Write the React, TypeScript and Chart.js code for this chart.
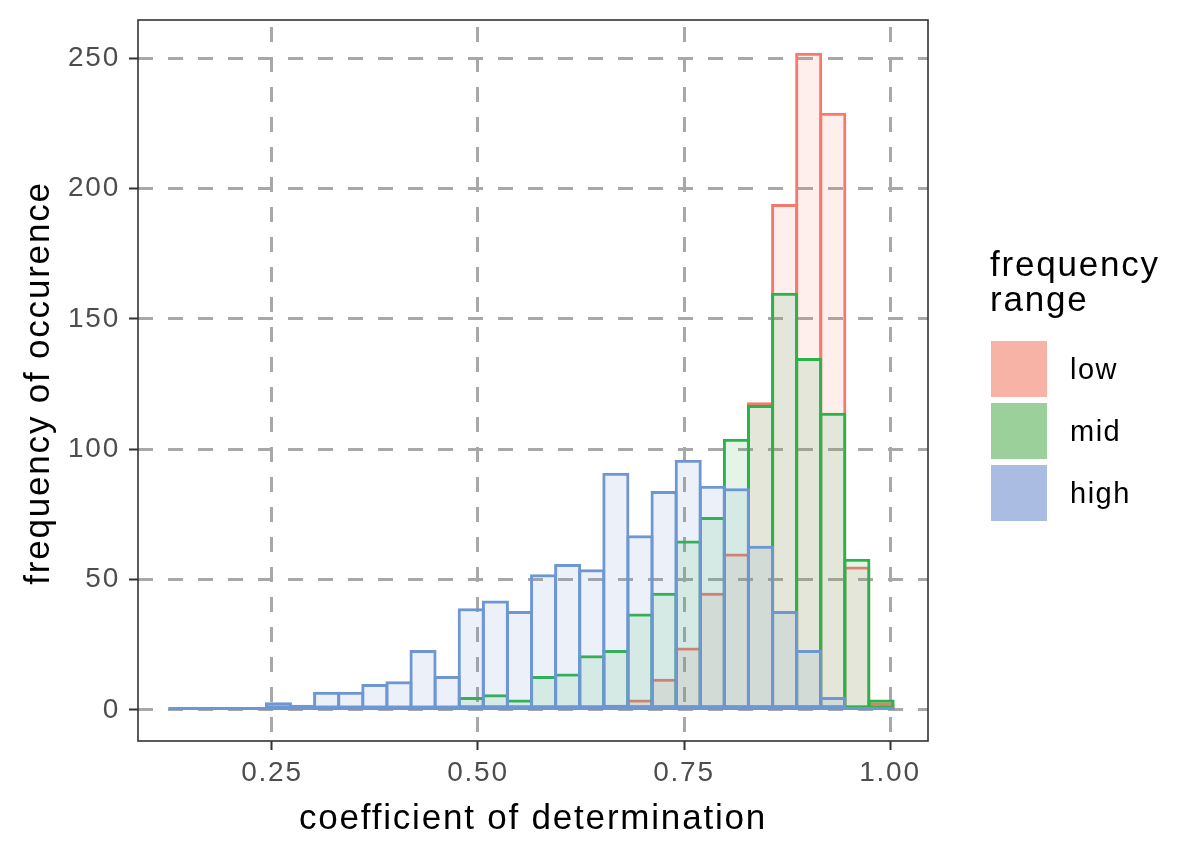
import { useEffect, useRef } from 'react';
import { Chart, ChartConfiguration, registerables } from 'chart.js';

Chart.register(...registerables);

// bin centres of the 30-bin histogram (coefficient of determination)
const binCenters = [
  0.1408, 0.1701, 0.1993, 0.2286, 0.2578, 0.2871, 0.3163, 0.3456, 0.3748, 0.4041,
  0.4333, 0.4626, 0.4918, 0.5211, 0.5503, 0.5796, 0.6088, 0.6381, 0.6673, 0.6966,
  0.7258, 0.7551, 0.7843, 0.8136, 0.8428, 0.8721, 0.9013, 0.9306, 0.9598, 0.9891,
];

const lowCounts = [0, 0, 0, 0, 0, 0, 0, 0, 0, 0, 0, 1, 0, 0, 0, 0, 0, 1, 2, 4, 12, 24, 45, 60, 118, 194, 252, 229, 55, 3];
const midCounts = [0, 0, 0, 0, 0, 0, 0, 0, 0, 1, 0, 0, 5, 6, 4, 13, 14, 21, 23, 37, 45, 65, 74, 104, 117, 160, 135, 114, 58, 4];
const highCounts = [1, 1, 1, 1, 3, 2, 7, 7, 10, 11, 23, 13, 39, 42, 38, 52, 56, 54, 91, 67, 84, 96, 86, 85, 63, 38, 23, 5, 1, 0];

const seriesNames = ['low', 'mid', 'high'];
const xTicks = [0.25, 0.5, 0.75, 1.0];
const xTickLabels = ['0.25', '0.50', '0.75', '1.00'];
const yTicks = [0, 50, 100, 150, 200, 250];

const FONT = '"Liberation Sans", Arial, Helvetica, sans-serif';
const lineColors = ['#F47A6D', '#2BB34B', '#6E96D3'];
const fillColors = ['rgba(244,122,109,0.13)', 'rgba(43,179,75,0.13)', 'rgba(110,150,211,0.13)'];
const keyColors = ['#F7B3A5', '#9BD09B', '#AABCE2'];
const GRID = '#A8A8A8';
const BAR_BORDER = 3;

// ggplot draws a zero-height outline for empty bins; chart.js skips them
const baselinePlugin = {
  id: 'baseline',
  afterDatasetsDraw(chart: Chart) {
    const bars = chart.getDatasetMeta(2).data;
    if (!bars.length) return;
    const first = bars[0].getProps(['x', 'width'], true) as any;
    const last = bars[bars.length - 1].getProps(['x', 'width'], true) as any;
    const y0 = chart.scales.y.getPixelForValue(0);
    const ctx = chart.ctx;
    ctx.save();
    ctx.strokeStyle = lineColors[2];
    ctx.lineWidth = BAR_BORDER;
    ctx.beginPath();
    ctx.moveTo(first.x - first.width / 2, y0 - BAR_BORDER / 2);
    ctx.lineTo(last.x + last.width / 2, y0 - BAR_BORDER / 2);
    ctx.stroke();
    ctx.restore();
  },
};

const panelPlugin = {
  id: 'panel',
  beforeDraw(chart: Chart) {
    (chart.ctx as any).letterSpacing = '1.8px';
  },
  afterDraw(chart: Chart) {
    const { ctx, chartArea: a } = chart;
    ctx.save();
    ctx.strokeStyle = '#333333';
    ctx.lineWidth = 1.6;
    ctx.strokeRect(a.left, a.top, a.right - a.left, a.bottom - a.top);
    ctx.restore();
    (ctx as any).letterSpacing = '0px';
  },
};

export default function App() {
  const canvasRef = useRef<HTMLCanvasElement>(null);

  useEffect(() => {
    if (!canvasRef.current) return;
    const series = [lowCounts, midCounts, highCounts];

    const config: ChartConfiguration<'bar'> = {
      type: 'bar',
      data: {
        datasets: series.map((counts, i) => ({
          label: seriesNames[i],
          data: binCenters.map((x, j) => ({ x, y: counts[j] })) as any,
          backgroundColor: fillColors[i],
          borderColor: lineColors[i],
          borderWidth: BAR_BORDER,
          borderSkipped: false,
          grouped: false,
          barPercentage: 1.125,
          categoryPercentage: 1,
          order: 3 - i,
        })),
      },
      options: {
        animation: false,
        responsive: true,
        maintainAspectRatio: false,
        layout: { padding: { top: 20, right: 272, left: 0, bottom: 0 } },
        plugins: {
          legend: { display: false },
          tooltip: { enabled: false },
        },
        scales: {
          x: {
            type: 'linear',
            min: 0.0874,
            max: 1.0461,
            offset: false,
            afterBuildTicks: (s: any) => {
              s.ticks = xTicks.map((v) => ({ value: v }));
            },
            afterFit: (s: any) => {
              s.height = 116;
              s.paddingLeft = 0;
              s.paddingRight = 0;
            },
            ticks: {
              autoSkip: false,
              maxRotation: 0,
              color: '#4D4D4D',
              font: { family: FONT, size: 28 },
              padding: 6,
              callback: (_v: any, i: number) => xTickLabels[i],
            },
            grid: { color: GRID, lineWidth: 3, tickLength: 9, tickColor: '#333333', tickWidth: 2, offset: false },
            border: { display: false, dash: [15, 15], dashOffset: 23 },
          },
          y: {
            type: 'linear',
            min: -11.9,
            max: 264.6,
            afterBuildTicks: (s: any) => {
              s.ticks = yTicks.map((v) => ({ value: v }));
            },
            afterFit: (s: any) => {
              s.width = 138;
              s.paddingTop = 0;
              s.paddingBottom = 0;
            },
            ticks: {
              autoSkip: false,
              color: '#4D4D4D',
              font: { family: FONT, size: 28 },
              padding: 9,
              callback: (v: any) => String(v),
            },
            grid: { color: GRID, lineWidth: 3, tickLength: 9, tickColor: '#333333', tickWidth: 2 },
            border: { display: false, dash: [15, 15], dashOffset: 0 },
          },
        },
      },
      plugins: [baselinePlugin, panelPlugin],
    };

    const chart = new Chart(canvasRef.current, config);
    return () => chart.destroy();
  }, []);

  return (
    <div
      style={{
        position: 'absolute',
        left: 0,
        top: 0,
        width: 1200,
        height: 857,
        background: '#fff',
        fontFamily: FONT,
        color: '#000',
        letterSpacing: '1.8px',
      }}
    >
      <div style={{ position: 'absolute', left: 0, top: 0, width: 1200, height: 857 }}>
        <canvas ref={canvasRef} />
      </div>
      <div
        style={{
          position: 'absolute',
          left: 138,
          top: 797,
          width: 790,
          lineHeight: '40px',
          fontSize: 35,
          textAlign: 'center',
          whiteSpace: 'nowrap',
        }}
      >
        coefficient of determination
      </div>
      <div
        style={{
          position: 'absolute',
          left: 37 - 300,
          top: 383 - 20,
          width: 600,
          height: 40,
          lineHeight: '40px',
          fontSize: 35,
          textAlign: 'center',
          whiteSpace: 'nowrap',
          transform: 'rotate(-90deg)',
        }}
      >
        frequency of occurence
      </div>
      <div style={{ position: 'absolute', left: 990, top: 246, fontSize: 35, lineHeight: '35px' }}>
        frequency
        <br />
        range
      </div>
      {seriesNames.map((name, i) => (
        <div key={name}>
          <div
            style={{
              position: 'absolute',
              left: 991,
              top: 341 + i * 62,
              width: 56,
              height: 56,
              background: keyColors[i],
            }}
          />
          <div
            style={{
              position: 'absolute',
              left: 1070,
              top: 341 + i * 62,
              height: 56,
              lineHeight: '56px',
              fontSize: 29,
              letterSpacing: '1.5px',
            }}
          >
            {name}
          </div>
        </div>
      ))}
    </div>
  );
}
